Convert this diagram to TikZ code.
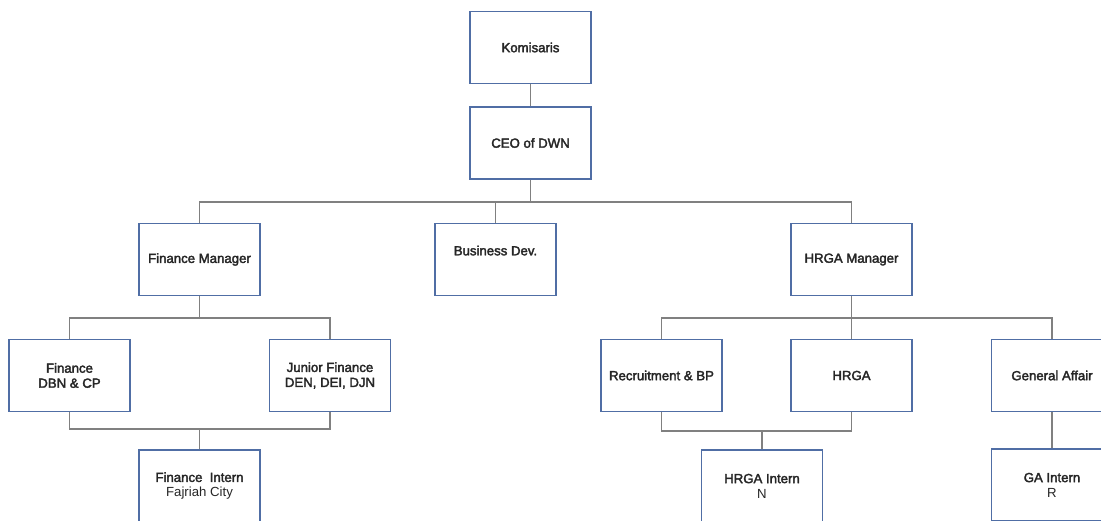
\documentclass[tikz,border=0pt]{standalone}
\usepackage{fontspec}
\setmainfont{Liberation Sans}
\newfontfamily\unitfont{Liberation Sans}[FakeBold=2.5]
\newfontfamily\plainfont{Liberation Sans}
\definecolor{boxblue}{RGB}{80,110,165}
\definecolor{linkgray}{RGB}{128,128,128}
\begin{document}
\begin{tikzpicture}[x=1pt,y=-1pt,
                        unit/.style={
                        shape=rectangle,
                        draw=boxblue, line width=1.1pt,
                        minimum width=121pt, minimum height=72pt,
                        inner sep=2pt,
                        font={\unitfont\fontsize{13.2}{15}\selectfont},
                        text=black!85,
                        align=center},
                        link/.style={draw=linkgray, line width=1.3pt}]
                        \fill [white] (0,0) rectangle (1101,520);
                        \clip (0,0) rectangle (1101,520);
                        \node [unit] (kom) at (530.5,47.5) {Komisaris};
                        \node [unit] (ceo) at (530.5,143) {CEO of DWN};
                        \node [unit] (fm) at (199.5,259.5) {Finance Manager};
                        \node [unit, text depth=18pt] (bd) at (495.5,259.5) {Business Dev.};
                        \node [unit] (hm) at (851.5,259.5) {HRGA Manager};
                        \node [unit] (fdbn) at (69.5,375.5) {Finance\\DBN \& CP};
                        \node [unit] (jf) at (330,375.5) {Junior Finance\\DEN, DEI, DJN};
                        \node [unit] (fi) at (199.5,486) {Finance\ \ Intern\\{\plainfont Fajriah City}};
                        \node [unit] (rbp) at (661.5,375.5) {Recruitment \& BP};
                        \node [unit] (hrga) at (851.5,375.5) {HRGA};
                        \node [unit] (ga) at (1052,375.5) {General Affair};
                        \node [unit] (hi) at (762,486) {HRGA Intern\\{\plainfont N}};
                        \node [unit] (gi) at (1052,485) {GA Intern\\{\plainfont R}};
                        \coordinate (b0) at (530.5,202);
                        \coordinate (b1) at (199.5,318);
                        \coordinate (b2) at (851.5,318);
                        \coordinate (m1) at (199.5,429);
                        \coordinate (m2) at (762,431);
                        \draw [link] (kom) -- (ceo);
                        \draw [link] (ceo) -- (b0);
                        \draw [link] (b0) -| (fm);
                        \draw [link] (b0) -| (bd);
                        \draw [link] (b0) -| (hm);
                        \draw [link] (fm) -- (b1);
                        \draw [link] (b1) -| (fdbn);
                        \draw [link] (b1) -| (jf);
                        \draw [link] (fdbn) |- (m1);
                        \draw [link] (jf) |- (m1);
                        \draw [link] (m1) -- (fi);
                        \draw [link] (hm) -- (b2);
                        \draw [link] (b2) -| (rbp);
                        \draw [link] (b2) -- (hrga);
                        \draw [link] (b2) -| (ga);
                        \draw [link] (rbp) |- (m2);
                        \draw [link] (hrga) |- (m2);
                        \draw [link] (m2) -- (hi);
                        \draw [link] (ga) -- (gi);
                \end{tikzpicture}
\end{document}
